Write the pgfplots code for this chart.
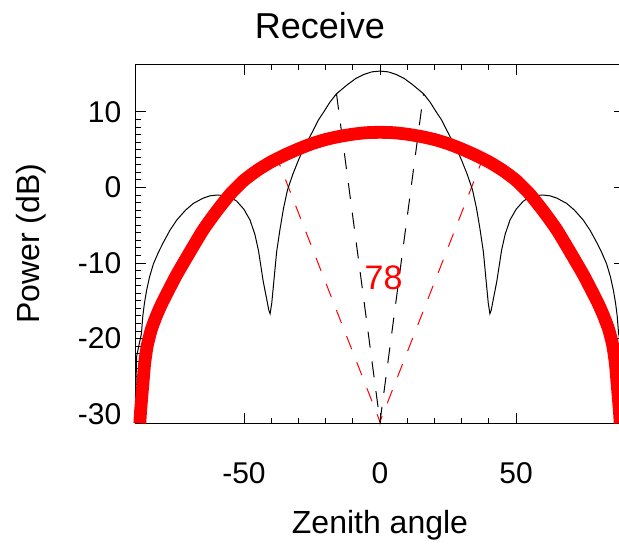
\documentclass[border=0pt]{standalone}
\usepackage{fontspec}
\setmainfont{Liberation Sans}
\usepackage{pgfplots}
\pgfplotsset{compat=1.18}
\begin{document}
\begin{tikzpicture}
\begin{axis}[
  scale only axis, width=244.8pt, height=179.5pt,
  xmin=-90, xmax=90, ymin=-31.2, ymax=16.3,
  xtick={-50,0,50}, xticklabels={-50,0,50},
  ytick={-30,-20,-10,0,10}, yticklabels={-30,-20,-10,0,10},
  minor x tick num=4, minor y tick num=9,
  tick align=inside,
  major tick length=5.3pt, minor tick length=2.8pt,
  every tick/.style={black, line width=0.5pt},
  axis line style={line width=0.5pt},
  xticklabel style={font=\fontsize{15}{15}\selectfont, anchor=base, inner sep=0pt, yshift=-30pt},
  yticklabel style={font=\fontsize{15}{15}\selectfont, anchor=east, inner sep=0pt, xshift=-6.75pt},
  clip=false,
]
% red dashed beam-width lines
\addplot[red, line width=0.5pt, dash pattern=on 7pt off 7pt] coordinates {(-38.5,4.5) (0,-31) (38.5,4.5)};
% black dashed beam-width lines
\addplot[black, line width=0.5pt, dash pattern=on 8pt off 7pt] coordinates {(-16,12.4) (0,-31) (16,12.4)};
% black thin pattern
\addplot[black, line width=0.5pt] coordinates {
(-90,-31.2) (-89.5,-22.4) (-88.7,-21.0) (-87.7,-19.3) (-87.2,-17.0) (-86.6,-15.3) (-85.8,-13.6) (-84.7,-11.8) (-83.3,-10.1) (-81.5,-8.6) (-79.7,-7.3) (-77.3,-5.7) (-74.7,-4.3) (-71.5,-3.0) (-68.6,-2.1) (-65,-1.4) (-62.5,-1.1) (-60,-1.0) (-57.5,-1.05) (-55,-1.3) (-52.7,-1.8) (-50,-2.9) (-47.8,-4.3) (-46,-6.2) (-44.7,-8.3) (-42.9,-12.5) (-41.8,-14.5) (-40.9,-16.2) (-40.4,-16.7) (-39.8,-15.3) (-39,-12.3) (-38,-8.5) (-36.8,-5.6) (-35.5,-2.8) (-34,-0.3) (-32,1.8) (-30,3.6) (-28.3,5.0) (-26.4,6.3) (-24.5,7.6) (-22.7,8.9) (-20.5,10.1) (-18.4,11.3) (-16,12.4) (-12,13.6) (-9,14.4) (-6,14.95) (-3,15.3) (0,15.4)
(3,15.3) (6,14.95) (9,14.4) (12,13.6) (16,12.4) (18.4,11.3) (20.5,10.1) (22.7,8.9) (24.5,7.6) (26.4,6.3) (28.3,5.0) (30,3.6) (32,1.8) (34,-0.3) (35.5,-2.8) (36.8,-5.6) (38,-8.5) (39,-12.3) (39.8,-15.3) (40.4,-16.7) (40.9,-16.2) (41.8,-14.5) (42.9,-12.5) (44.7,-8.3) (46,-6.2) (47.8,-4.3) (50,-2.9) (52.7,-1.8) (55,-1.3) (57.5,-1.05) (60,-1.0) (62.5,-1.1) (65,-1.4) (68.6,-2.1) (71.5,-3.0) (74.7,-4.3) (77.3,-5.7) (79.7,-7.3) (81.5,-8.6) (83.3,-10.1) (84.7,-11.8) (85.8,-13.6) (86.6,-15.3) (87.2,-17.0) (87.7,-19.3) (88.7,-21.0) (89.5,-22.4) (90,-31.2)
};
% red thick pattern
\addplot[red, line width=6.4pt, smooth, tension=0.35] coordinates {
(-88.3,-31.2) (-88.0,-29.5) (-87.3,-26.5) (-86.5,-23.2) (-85.5,-20.8) (-84,-18.7) (-82,-16.8) (-80,-15.2) (-75,-11.7) (-70,-8.6) (-65,-5.6) (-60,-3.1) (-55,-0.85) (-50,0.95) (-45,2.3) (-40,3.4) (-35,4.3) (-30,5.1) (-25,5.8) (-20,6.35) (-15,6.75) (-10,7.05) (-5,7.25) (0,7.3)
(5,7.25) (10,7.05) (15,6.75) (20,6.35) (25,5.8) (30,5.1) (35,4.3) (40,3.4) (45,2.3) (50,0.95) (55,-0.85) (60,-3.1) (65,-5.6) (70,-8.6) (75,-11.7) (80,-15.2) (82,-16.8) (84,-18.7) (85.5,-20.8) (86.5,-23.2) (87.3,-26.5) (88.0,-29.5) (88.3,-31.2)
};
\node[red, font=\fontsize{17}{17}\selectfont] at (axis cs:1.3,-12) {78};
\end{axis}
\node[anchor=base, font=\fontsize{18}{18}\selectfont] at ([xshift=92.4pt, yshift=192.5pt]current axis.south west) {Receive};
\node[anchor=base, font=\fontsize{16}{16}\selectfont] at ([yshift=-55pt]current axis.south) {Zenith angle};
\node[anchor=base, rotate=90, font=\fontsize{16}{16}\selectfont] at ([xshift=-47.6pt]current axis.west) {Power (dB)};
\pgfresetboundingbox
\path[use as bounding box] ([xshift=-67.6pt, yshift=-59.85pt]current axis.south west) rectangle ([xshift=241.9pt, yshift=211.65pt]current axis.south west);
\end{tikzpicture}
\end{document}
